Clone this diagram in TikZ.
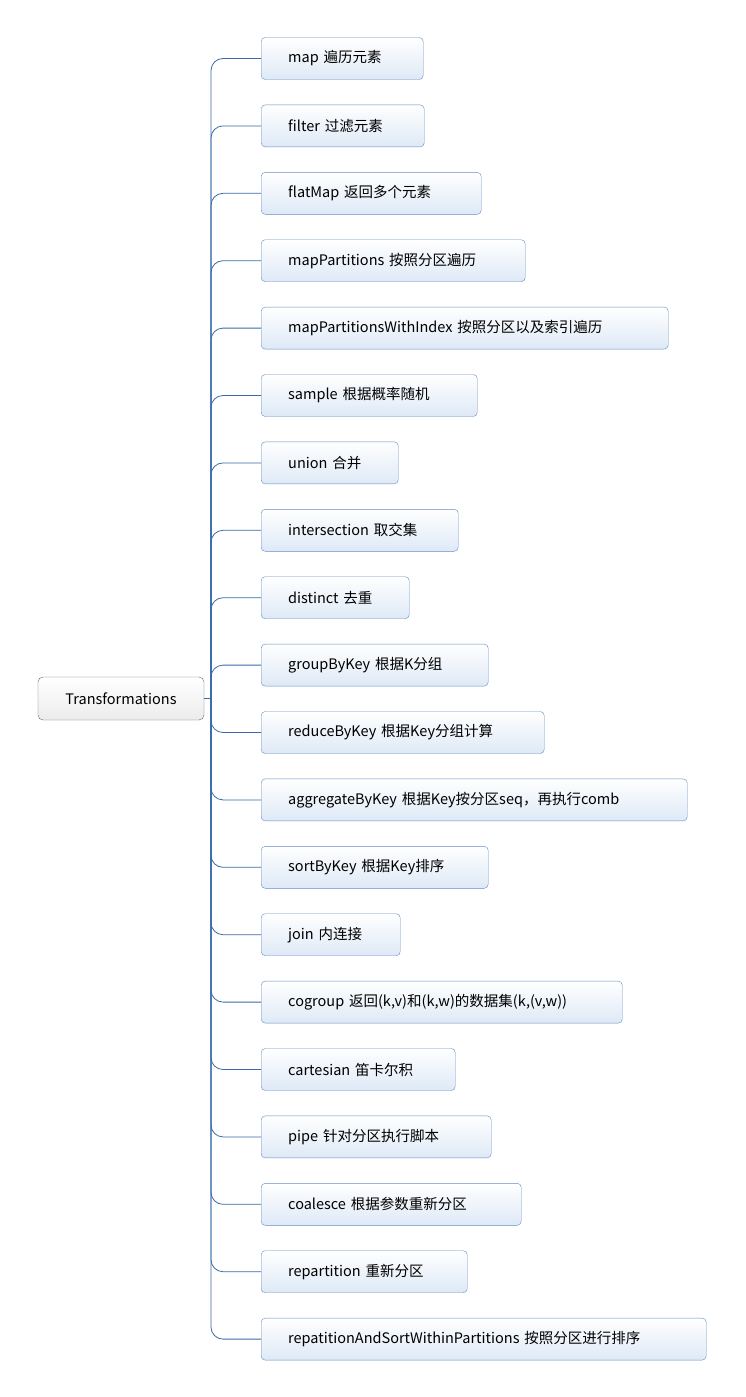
\documentclass[tikz,border=0pt]{standalone}
\usepackage{fontspec}
\setmainfont{Noto Sans CJK SC}
\usetikzlibrary{calc}
\definecolor{lineblue}{RGB}{58,106,168}
\definecolor{boxedge}{RGB}{100,140,195}
\definecolor{boxfill}{RGB}{222,233,246}
\begin{document}
\begin{tikzpicture}[x=1pt,y=-1pt,
  leaf/.style={draw=boxedge, rounded corners=4pt, top color=white, bottom color=boxfill,
    minimum height=42pt, anchor=west, inner xsep=0pt, align=left, font=\fontsize{14.5}{16}\selectfont},
  root/.style={draw=gray!80!black, rounded corners=5pt, top color=white, bottom color=gray!15,
    minimum width=166pt, minimum height=43pt, font=\fontsize{14.5}{16}\selectfont},
  conn/.style={draw=lineblue, thick, rounded corners=12pt}]
\useasboundingbox (0,0) rectangle (745,1397);

\node[root] (trans) at (121,698.5) {Transformations};
\coordinate (hub) at (211,698.5);
\draw[conn] (trans.east) -- (hub);

\foreach \i/\w/\txt in {
  1/162/map 遍历元素,
  2/163/filter 过滤元素,
  3/220/flatMap 返回多个元素,
  4/264/mapPartitions 按照分区遍历,
  5/407/mapPartitionsWithIndex 按照分区以及索引遍历,
  6/216/sample 根据概率随机,
  7/137/union 合并,
  8/197/intersection 取交集,
  9/148/distinct 去重,
  10/227/groupByKey 根据K分组,
  11/283/reduceByKey 根据Key分组计算,
  12/426/aggregateByKey 根据Key按分区seq，再执行comb,
  13/227/sortByKey 根据Key排序,
  14/139/join 内连接,
  15/361/cogroup 返回(k{,}v)和(k{,}w)的数据集(k{,}(v{,}w)),
  16/194/cartesian 笛卡尔积,
  17/230/pipe 针对分区执行脚本,
  18/260/coalesce 根据参数重新分区,
  19/206/repartition 重新分区,
  20/445/repatitionAndSortWithinPartitions 按照分区进行排序}
{
  \node[leaf, minimum width=\w pt, text width=\w pt] (op\i) at (261,{58.5+67.4*(\i-1)}) {\hspace*{27pt}\txt};
  \draw[conn] (hub) |- (op\i.west);
}
\end{tikzpicture}
\end{document}
